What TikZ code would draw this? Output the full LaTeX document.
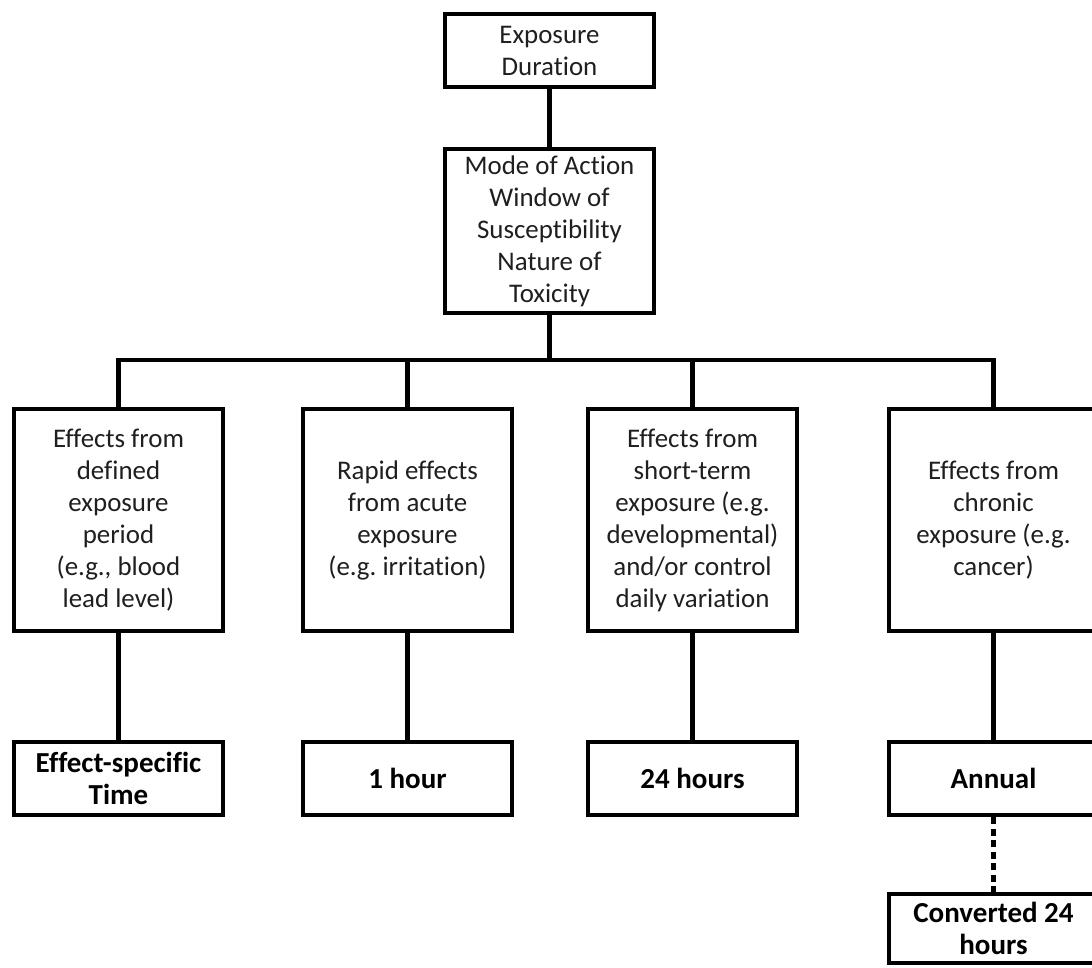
\documentclass[tikz,border=0pt]{standalone}
\usepackage{fontspec}
\setmainfont{Carlito}[Ligatures=NoCommon]
\frenchspacing
\begin{document}
\begin{tikzpicture}[x=1pt,y=-1pt,
  box/.style={draw=black,line width=4.5pt,rectangle,align=center,inner sep=0pt,
    font=\fontsize{26.9}{32}\selectfont\frenchspacing,text=black!88},
  bbox/.style={box,font=\fontsize{29}{32}\selectfont\bfseries,text=black},
  conn/.style={line width=4.5pt,draw=black},
  dots/.style={line width=4.5pt,draw=black,dash pattern=on 7pt off 4.5pt}]
\clip (0,0) rectangle (1092,967);
\fill[white] (0,0) rectangle (1092,967);
\node[box,minimum width=209pt,minimum height=73pt] (top) at (549.5,50.5) {Exposure\\Duration};
\node[box,minimum width=209pt,minimum height=164pt] (mid) at (549.5,231) {Mode of Action\\Window of\\Susceptibility\\Nature of\\Toxicity};
\coordinate (bar) at (549.5,360);
\node[box,minimum width=209pt,minimum height=222pt] (b1) at (118.5,520) {Effects from\\defined\\exposure\\period\\(e.g., blood\\lead level)};
\node[box,minimum width=209pt,minimum height=222pt] (b2) at (407.5,520) {Rapid effects\\from acute\\exposure\\(e.g. irritation)};
\node[box,minimum width=209pt,minimum height=222pt] (b3) at (692.5,520) {Effects from\\short-term\\exposure (e.g.\\developmental)\\and/or control\\daily variation};
\node[box,minimum width=209pt,minimum height=222pt] (b4) at (993.5,520) {Effects from\\chronic\\exposure (e.g.\\cancer)};
\node[bbox,minimum width=209pt,minimum height=73pt] (t1) at (118.5,778.5) {Effect-specific\\Time};
\node[bbox,minimum width=209pt,minimum height=73pt] (t2) at (407.5,778.5) {1 hour};
\node[bbox,minimum width=209pt,minimum height=73pt] (t3) at (692.5,778.5) {24 hours};
\node[bbox,minimum width=209pt,minimum height=73pt] (t4) at (993.5,778.5) {Annual};
\node[bbox,minimum width=209pt,minimum height=69pt] (t5) at (993.5,928.5) {Converted 24\\hours};
\draw[conn] (top) -- (mid);
\draw[conn] (mid.south) -- (bar);
\draw[conn] (b1.north) -- (b1.north |- bar) -- (b4.north |- bar) -- (b4.north);
\draw[conn] (b2.north |- bar) -- (b2.north);
\draw[conn] (b3.north |- bar) -- (b3.north);
\draw[conn] (b1) -- (t1);
\draw[conn] (b2) -- (t2);
\draw[conn] (b3) -- (t3);
\draw[conn] (b4) -- (t4);
\draw[dots] (t4) -- (t5);
\end{tikzpicture}
\end{document}
